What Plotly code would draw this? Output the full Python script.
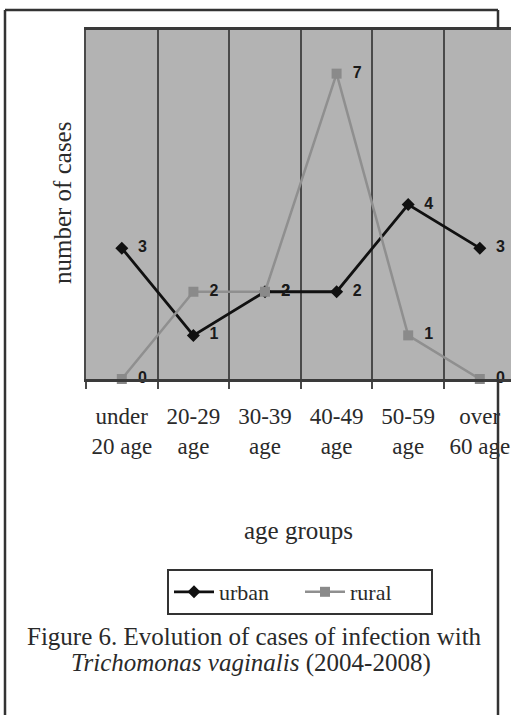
import plotly.graph_objects as go

categories = ["under<br>20 age", "20-29<br>age", "30-39<br>age", "40-49<br>age", "50-59<br>age", "over<br>60 age"]
urban = [3, 1, 2, 2, 4, 3]
rural = [0, 2, 2, 7, 1, 0]

W, H = 511, 715
def px(x): return x / W
def py(y): return 1 - y / H

SERIF = "Liberation Serif, Times New Roman, serif"
TXT = "#2a2a2a"
LABEL_FONT = dict(family="Arial, Liberation Sans, sans-serif", size=16, color="#1a1a1a", weight="bold")

fig = go.Figure()
fig.add_trace(go.Scatter(
    x=categories, y=urban, name="urban", mode="lines+markers+text",
    line=dict(color="#111111", width=2.8),
    marker=dict(symbol="diamond", size=10, color="#111111"),
    text=[f"  {v}" for v in urban], textposition="middle right",
    textfont=LABEL_FONT, cliponaxis=False,
))
fig.add_trace(go.Scatter(
    x=categories, y=rural, name="rural", mode="lines+markers+text",
    line=dict(color="#8f8f8f", width=2.5),
    marker=dict(symbol="square", size=10, color="#8a8a8a"),
    text=[f"  {v}" for v in rural], textposition="middle right",
    textfont=LABEL_FONT, cliponaxis=False,
))

plot_left = 86
x_hi = -0.5 + (W - plot_left) / 71.6

fig.update_layout(
    width=W, height=H, margin=dict(l=0, r=0, t=0, b=0),
    paper_bgcolor="white", plot_bgcolor="#b3b3b3",
    showlegend=True,
    legend=dict(orientation="h", x=px(300), xanchor="center", y=py(592), yanchor="middle",
                bordercolor="#333333", borderwidth=2, bgcolor="white",
                font=dict(family=SERIF, size=22, color=TXT), entrywidth=76,
                itemwidth=40),
    xaxis=dict(domain=[px(plot_left), 1], range=[-0.5, x_hi], type="category",
               tickson="boundaries", showgrid=True, gridcolor="#4a4a4a", gridwidth=2,
               ticks="outside", ticklen=7, tickcolor="#4a4a4a", tickwidth=2,
               showline=True, linecolor="#3a3a3a", linewidth=2.5, mirror=True,
               tickfont=dict(family=SERIF, size=23, color=TXT), ticklabelstandoff=15,
               tickangle=0, zeroline=False),
    yaxis=dict(domain=[py(379), py(30)], range=[0, 8], showticklabels=False, showgrid=False,
               zeroline=False, showline=True, linecolor="#4a4a4a", linewidth=2),
    annotations=[
        dict(text="number of cases", xref="paper", yref="paper", x=px(62), y=py(203),
             xanchor="center", yanchor="middle",
             textangle=-90, showarrow=False, font=dict(family=SERIF, size=25, color=TXT)),
        dict(text="age groups", xref="paper", yref="paper", x=px(298), y=py(530),
             xanchor="center", yanchor="middle",
             showarrow=False, font=dict(family=SERIF, size=25, color=TXT)),
        dict(text="Figure 6. Evolution of cases of infection with",
             xref="paper", yref="paper", x=px(254), y=py(636), xanchor="center", yanchor="middle",
             showarrow=False, font=dict(family=SERIF, size=25, color=TXT)),
        dict(text="<i>Trichomonas vaginalis</i> (2004-2008)",
             xref="paper", yref="paper", x=px(251), y=py(663), xanchor="center", yanchor="middle",
             showarrow=False, font=dict(family=SERIF, size=25, color=TXT)),
    ],
    shapes=[
        dict(type="line", xref="paper", yref="paper", x0=px(5), x1=px(5), y0=0, y1=py(10),
             line=dict(color="#333333", width=2.5)),
        dict(type="line", xref="paper", yref="paper", x0=px(5), x1=px(498), y0=py(10), y1=py(10),
             line=dict(color="#333333", width=2.5)),
        dict(type="line", xref="paper", yref="paper", x0=px(498), x1=px(498), y0=py(10), y1=py(30),
             line=dict(color="#333333", width=2.5)),
        dict(type="line", xref="paper", yref="paper", x0=px(498), x1=px(498), y0=0, y1=py(379),
             line=dict(color="#333333", width=2.5)),
    ],
)

fig.write_html("out.html")
